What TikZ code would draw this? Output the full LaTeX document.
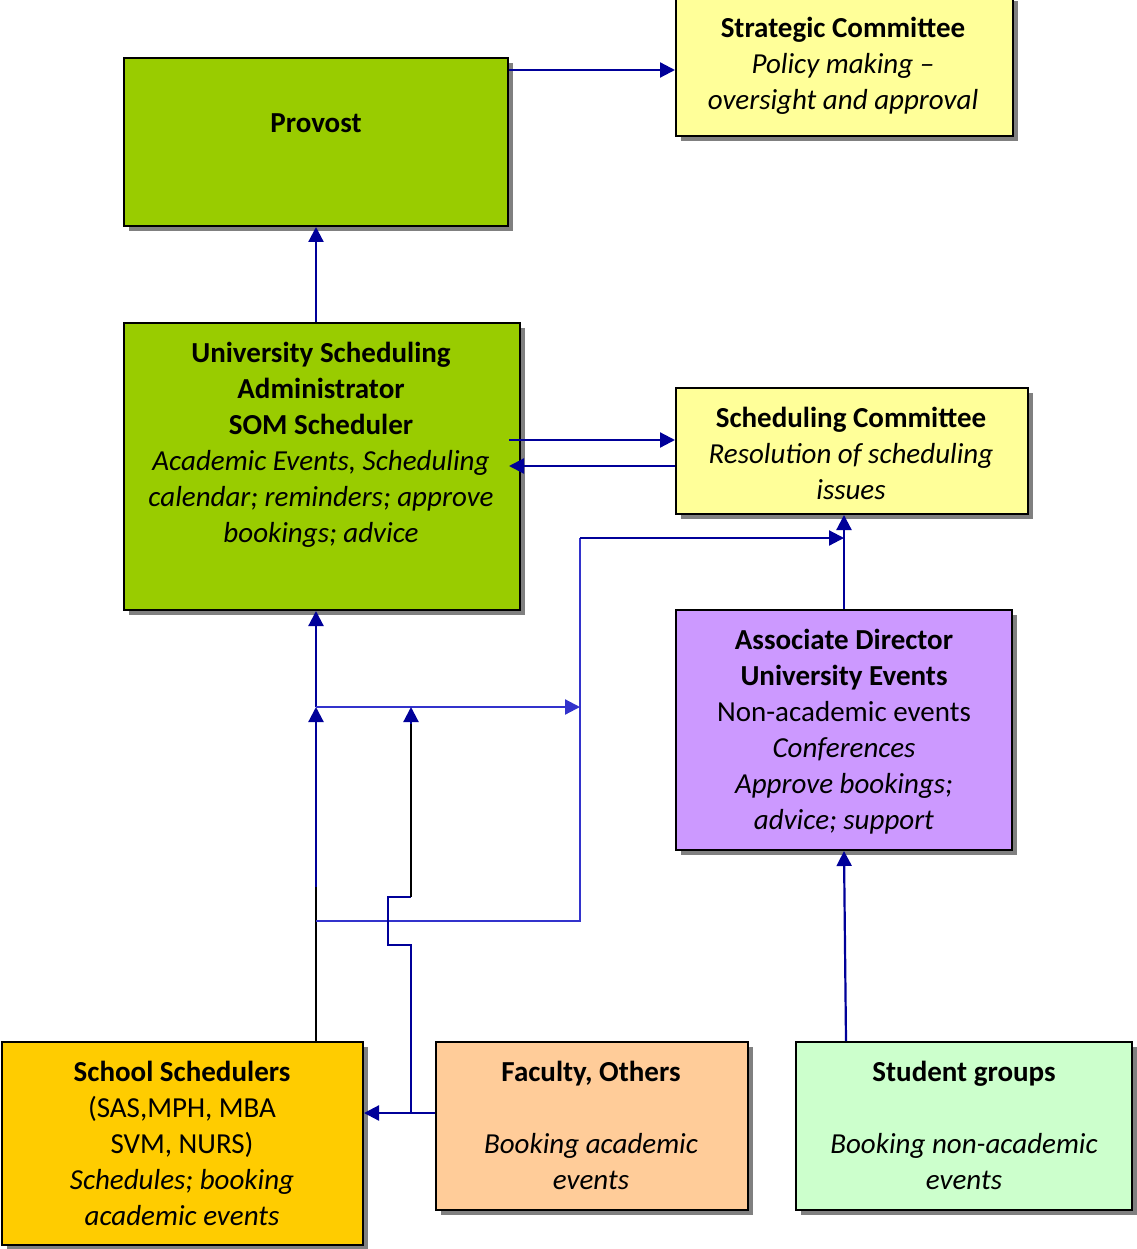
\documentclass[tikz,border=0pt]{standalone}
\usepackage{fontspec}
\setmainfont{Carlito}
\usetikzlibrary{arrows.meta,shadows}
\definecolor{navy}{RGB}{0,0,153}
\definecolor{brightblue}{RGB}{51,51,204}
\definecolor{boxgreen}{RGB}{153,204,0}
\definecolor{boxyellow}{RGB}{255,255,153}
\definecolor{boxpurple}{RGB}{204,153,255}
\definecolor{boxorange}{RGB}{255,204,0}
\definecolor{boxpeach}{RGB}{255,204,153}
\definecolor{boxmint}{RGB}{204,255,204}
\begin{document}
\begin{tikzpicture}[x=1pt,y=-1pt,
  box/.style={draw=black, line width=2pt, inner sep=0pt,
    drop shadow={shadow xshift=5pt, shadow yshift=-5pt, fill=black!50, opacity=1}},
  txt/.style={align=center, inner sep=0pt, anchor=base, font=\fontsize{29}{36}\selectfont},
  tip/.style={-{Triangle[length=15pt,width=15pt]}},
  conn/.style={draw=navy, line width=2.2pt},
  connb/.style={draw=brightblue, line width=2.2pt},
  connk/.style={draw=black, line width=2.2pt}]
\useasboundingbox (0,0) rectangle (1136,1249);

% boxes
\node[box, fill=boxyellow, minimum width=337pt, minimum height=140pt] (strat) at (844.5,66) {};
\node[box, fill=boxgreen, minimum width=384pt, minimum height=168pt] (provost) at (316,142) {};
\node[box, fill=boxgreen, minimum width=396pt, minimum height=287pt] (usa) at (322,466.5) {};
\node[box, fill=boxyellow, minimum width=352pt, minimum height=126pt] (schedc) at (852,451) {};
\node[box, fill=boxpurple, minimum width=336pt, minimum height=240pt] (assoc) at (844,730) {};
\node[box, fill=boxorange, minimum width=361pt, minimum height=203pt] (school) at (182.5,1143.5) {};
\node[box, fill=boxpeach, minimum width=312pt, minimum height=168pt] (faculty) at (592,1126) {};
\node[box, fill=boxmint, minimum width=336pt, minimum height=168pt] (student) at (964,1126) {};

% texts (anchored at the baseline of the last line)
\node[txt] (tstrat) at (843,110) {\textbf{Strategic Committee}\\\textit{Policy making –}\\\textit{oversight and approval}};
\node[txt] (tprovost) at (316,133) {\textbf{Provost}};
\node[txt] (tusa) at (321,542) {\textbf{University Scheduling}\\\textbf{Administrator}\\\textbf{SOM Scheduler}\\\textit{Academic Events, Scheduling}\\\textit{calendar; reminders; approve}\\\textit{bookings; advice}};
\node[txt] (tschedc) at (851,499) {\textbf{Scheduling Committee}\\\textit{Resolution of scheduling}\\\textit{issues}};
\node[txt] (tassoc) at (844,829) {\textbf{Associate Director}\\\textbf{University Events}\\Non-academic events\\\textit{Conferences}\\\textit{Approve bookings;}\\\textit{advice; support}};
\node[txt] (tschool) at (182,1225) {\textbf{School Schedulers}\\(SAS,MPH, MBA\\SVM, NURS)\\\textit{Schedules; booking}\\\textit{academic events}};
\node[txt] (tfaculty) at (591,1189) {\textbf{Faculty, Others}\\[36pt]\textit{Booking academic}\\\textit{events}};
\node[txt] (tstudent) at (964,1189) {\textbf{Student groups}\\[36pt]\textit{Booking non-academic}\\\textit{events}};

% junction coordinates
\coordinate (j1) at (316,707);
\coordinate (j2) at (411,707);
\coordinate (r1) at (580,707);
\coordinate (k1) at (316,887);
\coordinate (k2) at (411,724);
\coordinate (h1) at (316,921);
\coordinate (h2) at (580,921);
\coordinate (h3) at (580,538);
\coordinate (f1) at (411,1113);

% connectors
\draw[conn, tip] (provost.east |- 0,70) -- (strat.west |- 0,70);
\draw[conn, tip] (usa.north -| provost.south) -- (provost.south);
\draw[conn, tip] ([xshift=-12pt]usa.east |- 0,440) -- (schedc.west |- 0,440);
\draw[conn, tip] (schedc.west |- 0,466) -- ([xshift=-12pt]usa.east |- 0,466);
\draw[conn, tip] (assoc.north) -- (schedc.south -| assoc.north);
\draw[conn, tip] ([xshift=2pt]student.north -| assoc.south) -- (assoc.south);

\draw[connk] (school.north -| j1) -- (k1);
\draw[conn, tip] (k1) -- (j1);
\draw[conn, tip] (j1) -- (usa.south -| j1);
\draw[connb, tip] (j1) -- (r1);
\draw[connb] (h1) -- (h2) -- (h3);
\draw[conn, tip] (h3) -- (h3 -| assoc.north);

\draw[conn, tip] (faculty.west |- f1) -- (school.east |- f1);
\draw[conn] (f1) -- (411,945) -- (388,945) -- (388,897) -- (411,897);
\draw[connk] (411,897) -- (k2);
\draw[conn, tip] (k2) -- (j2);
\end{tikzpicture}
\end{document}
